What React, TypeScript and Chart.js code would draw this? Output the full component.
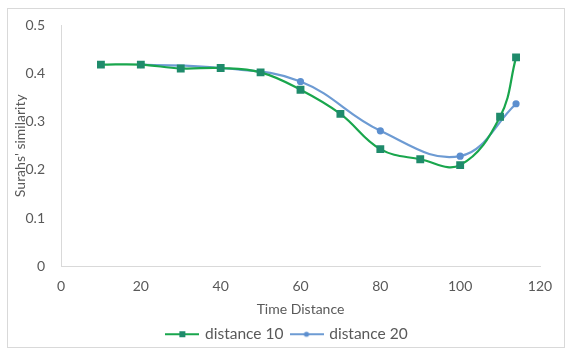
import React, { useEffect, useRef } from "react";
import { Chart, registerables } from "chart.js";

Chart.register(...registerables);

const xDist10 = [10, 20, 30, 40, 50, 60, 70, 80, 90, 100, 110, 114];
const dist10 = [0.418, 0.418, 0.41, 0.411, 0.402, 0.366, 0.316, 0.243, 0.222, 0.21, 0.31, 0.433];
const xDist20 = [20, 40, 60, 80, 100, 114];
const dist20 = [0.418, 0.411, 0.383, 0.281, 0.2285, 0.337];
const seriesNames = ["distance 10", "distance 20"];
const xTitle = "Time Distance";
const yTitle = "Surahs' similarity";

const GREEN_LINE = "#19a64d";
const GREEN_MARK = "#1f8b6b";
const BLUE_LINE = "#6d9bd3";
const BLUE_MARK = "#5c8fcf";
const FONT = "Lato, 'Open Sans', sans-serif";
const TEXT = "#595959";

function legendIcon(line: string, mark: string, square: boolean) {
  const c = document.createElement("canvas");
  c.width = 34;
  c.height = 10;
  const ctx = c.getContext("2d")!;
  ctx.strokeStyle = line;
  ctx.lineWidth = 2.2;
  ctx.beginPath();
  ctx.moveTo(0, 5);
  ctx.lineTo(34, 5);
  ctx.stroke();
  ctx.fillStyle = mark;
  if (square) {
    ctx.fillRect(14, 2, 6, 6);
  } else {
    ctx.beginPath();
    ctx.arc(17, 5, 2.6, 0, Math.PI * 2);
    ctx.fill();
  }
  return c;
}

const borderPlugin = {
  id: "outerBorder",
  beforeDraw(chart: any) {
    const ctx = chart.ctx;
    ctx.save();
    ctx.fillStyle = "#ffffff";
    ctx.fillRect(0, 0, chart.width, chart.height);
    ctx.strokeStyle = "#d9d9d9";
    ctx.lineWidth = 1;
    ctx.strokeRect(7.5, 8.5, 557, 339);
    ctx.restore();
  },
};

export default function App() {
  const ref = useRef<HTMLCanvasElement | null>(null);

  useEffect(() => {
    document.body.style.margin = "0";
    const icons = [legendIcon(GREEN_LINE, GREEN_MARK, true), legendIcon(BLUE_LINE, BLUE_MARK, false)];
    const chart = new Chart(ref.current!, {
      type: "line",
      data: {
        datasets: [
          {
            label: seriesNames[0],
            data: xDist10.map((x, i) => ({ x, y: dist10[i] })),
            borderColor: GREEN_LINE,
            backgroundColor: GREEN_MARK,
            pointBackgroundColor: GREEN_MARK,
            pointBorderColor: GREEN_MARK,
            pointStyle: "rect",
            pointRadius: 4,
            borderWidth: 2.2,
            tension: 0.4,
            fill: false,
          },
          {
            label: seriesNames[1],
            data: xDist20.map((x, i) => ({ x, y: dist20[i] })),
            borderColor: BLUE_LINE,
            backgroundColor: BLUE_MARK,
            pointBackgroundColor: BLUE_MARK,
            pointBorderColor: BLUE_MARK,
            pointStyle: "circle",
            pointRadius: 2.5,
            borderWidth: 2.2,
            tension: 0.4,
            fill: false,
          },
        ],
      },
      options: {
        responsive: false,
        animation: false,
        layout: { padding: { left: 0, right: 0, top: 25, bottom: 4 } },
        plugins: {
          tooltip: { enabled: false },
          legend: {
            position: "bottom",
            labels: {
              usePointStyle: true,
              pointStyleWidth: 30,
              padding: 8,
              color: TEXT,
              font: { family: FONT, size: 15.5 },
              generateLabels: (ch: any) =>
                ch.data.datasets.map((d: any, i: number) => ({
                  text: d.label,
                  pointStyle: icons[i],
                  fillStyle: d.borderColor,
                  strokeStyle: d.borderColor,
                  lineWidth: 0,
                  hidden: false,
                  datasetIndex: i,
                  fontColor: TEXT,
                })),
            },
          },
        },
        scales: {
          x: {
            type: "linear",
            min: 0,
            max: 120,
            afterFit: (s: any) => {
              s.height = 52;
            },
            grid: { display: false, drawTicks: false },
            border: { display: true, color: "#d9d9d9", width: 1 },
            ticks: { stepSize: 20, color: TEXT, font: { family: FONT, size: 14 }, padding: 12, maxRotation: 0 },
            title: { display: true, text: xTitle, color: TEXT, font: { family: FONT, size: 14 }, padding: { top: 0, bottom: 1 } },
          },
          y: {
            min: 0,
            max: 0.5,
            afterFit: (s: any) => {
              s.width = 61;
            },
            grid: { display: false, drawTicks: false },
            border: { display: true, color: "#d9d9d9", width: 1 },
            ticks: {
              stepSize: 0.1,
              color: TEXT,
              font: { family: FONT, size: 14 },
              padding: 16,
              callback: (v: any) => String(Math.round(Number(v) * 10) / 10),
            },
            title: { display: true, text: yTitle, color: TEXT, font: { family: FONT, size: 14 }, padding: { top: 12, bottom: 0 } },
          },
          yRight: {
            type: "linear",
            position: "right",
            min: 0,
            max: 1,
            afterFit: (s: any) => {
              s.width = 35;
            },
            grid: { display: false, drawTicks: false },
            border: { display: false },
            ticks: { display: false },
          },
        },
      },
      plugins: [borderPlugin],
    });
    return () => chart.destroy();
  }, []);

  return (
    <div style={{ width: 575, height: 356 }}>
      <canvas ref={ref} width={575} height={356} style={{ display: "block" }} />
    </div>
  );
}
